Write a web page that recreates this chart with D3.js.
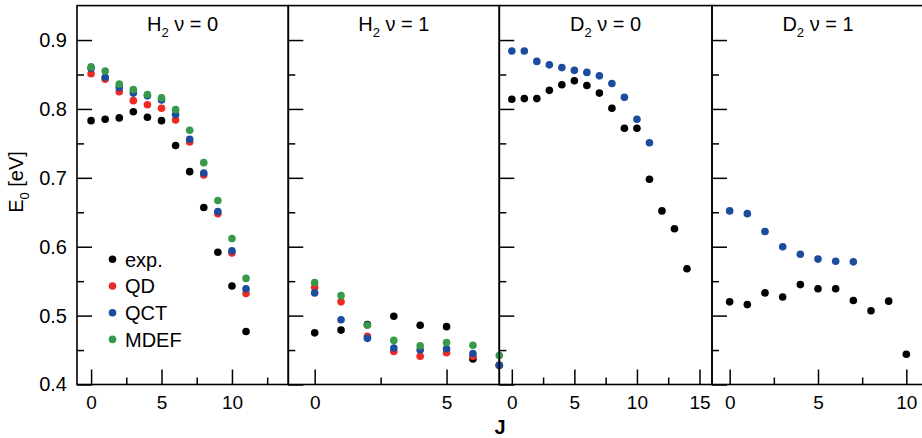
<!DOCTYPE html>
<html>
<head>
<meta charset="utf-8">
<script src="https://cdn.jsdelivr.net/npm/d3@7"></script>
<style>
  body { margin: 0; background: #fff; }
  svg { display: block; font-family: "Liberation Sans", Arial, Helvetica, sans-serif; }
</style>
</head>
<body>
<div id="chart"></div>
<script>
// series colours
var colExp = '#000000', colQD = '#ee2a24', colQCT = '#1b4c9e', colMDEF = '#37994a';

// H2 v=0
var h2v0J = [0, 1, 2, 3, 4, 5, 6, 7, 8, 9, 10, 11];
var h2v0Exp = [0.783, 0.785, 0.787, 0.796, 0.788, 0.783, 0.747, 0.709, 0.657, 0.592, 0.543, 0.477];
var h2v0QD = [0.851, 0.843, 0.825, 0.812, 0.806, 0.801, 0.784, 0.752, 0.704, 0.648, 0.591, 0.532];
var h2v0QCT = [0.859, 0.846, 0.831, 0.823, 0.819, 0.813, 0.792, 0.756, 0.707, 0.651, 0.594, 0.539];
var h2v0MDEF = [0.861, 0.855, 0.836, 0.828, 0.821, 0.816, 0.799, 0.769, 0.722, 0.667, 0.612, 0.554];

// H2 v=1
var h2v1J = [0, 1, 2, 3, 4, 5, 6, 7];
var h2v1Exp = [0.475, 0.479, 0.487, 0.499, 0.486, 0.484, 0.437, 0.428];
var h2v1QD = [0.541, 0.520, 0.470, 0.448, 0.441, 0.446, 0.441, 0.428];
var h2v1QCT = [0.533, 0.494, 0.467, 0.453, 0.450, 0.452, 0.445, 0.428];
var h2v1MDEF = [0.548, 0.529, 0.486, 0.464, 0.456, 0.461, 0.457, 0.442];

// D2 v=0
var d2v0J = [0, 1, 2, 3, 4, 5, 6, 7, 8, 9, 10, 11, 12, 13, 14];
var d2v0Exp = [0.814, 0.815, 0.815, 0.827, 0.835, 0.841, 0.834, 0.823, 0.801, 0.772, 0.772, 0.698, 0.652, 0.626, 0.568];
var d2v0QCTJ = [0, 1, 2, 3, 4, 5, 6, 7, 8, 9, 10, 11];
var d2v0QCT = [0.884, 0.884, 0.869, 0.864, 0.860, 0.856, 0.853, 0.848, 0.837, 0.817, 0.785, 0.751];

// D2 v=1
var d2v1J = [0, 1, 2, 3, 4, 5, 6, 7, 8, 9, 10];
var d2v1Exp = [0.520, 0.516, 0.533, 0.527, 0.545, 0.539, 0.539, 0.522, 0.507, 0.521, 0.444];
var d2v1QCTJ = [0, 1, 2, 3, 4, 5, 6, 7];
var d2v1QCT = [0.652, 0.648, 0.622, 0.600, 0.589, 0.582, 0.579, 0.578];

var legendNames = ['exp.', 'QD', 'QCT', 'MDEF'];
var legendColors = [colExp, colQD, colQCT, colMDEF];
var yTicksMajor = [0.4, 0.5, 0.6, 0.7, 0.8, 0.9];
var yTicksMinor = [0.45, 0.55, 0.65, 0.75, 0.85];

var panels = [
  { mol: 'H', v: '0', xDomain: [-1, 14], major: [0, 5, 10], minor: [2.5, 7.5, 12.5],
    series: [[h2v0J, h2v0Exp, colExp], [h2v0J, h2v0QD, colQD], [h2v0J, h2v0QCT, colQCT], [h2v0J, h2v0MDEF, colMDEF]] },
  { mol: 'H', v: '1', xDomain: [-1, 7], major: [0, 5], minor: [2.5],
    series: [[h2v1J, h2v1Exp, colExp], [h2v1J, h2v1QD, colQD], [h2v1J, h2v1QCT, colQCT], [h2v1J, h2v1MDEF, colMDEF]] },
  { mol: 'D', v: '0', xDomain: [-1, 16], major: [0, 5, 10, 15], minor: [2.5, 7.5, 12.5],
    series: [[d2v0J, d2v0Exp, colExp], [d2v0QCTJ, d2v0QCT, colQCT]] },
  { mol: 'D', v: '1', xDomain: [-1, 11], major: [0, 5, 10], minor: [2.5, 7.5],
    series: [[d2v1J, d2v1Exp, colExp], [d2v1QCTJ, d2v1QCT, colQCT]] }
];

var width = 922, height = 438;
var edges = [77, 288.3, 499.3, 712, 924];
var plotTop = 5.6, plotBottom = 384.5;
var r = 3.8;

var svg = d3.select('#chart').append('svg')
  .attr('width', width)
  .attr('height', height);

var y = d3.scaleLinear().domain([0.4, 0.95]).range([plotBottom, plotTop]);

panels.forEach(function(p, i) {
  var x0 = edges[i], x1 = edges[i + 1];
  var x = d3.scaleLinear().domain(p.xDomain).range([x0, x1]);
  var g = svg.append('g');

  // bottom ticks, inward
  var xMaj = g.append('g')
    .attr('transform', 'translate(0,' + plotBottom + ')')
    .call(d3.axisBottom(x).tickValues(p.major).tickSize(-15).tickSizeOuter(0).tickPadding(11).tickFormat(d3.format('d')));
  var xMin = g.append('g')
    .attr('transform', 'translate(0,' + plotBottom + ')')
    .call(d3.axisBottom(x).tickValues(p.minor).tickSize(-7).tickSizeOuter(0).tickFormat(''));

  // left ticks, inward
  var yMaj = g.append('g')
    .attr('transform', 'translate(' + x0 + ',0)')
    .call(d3.axisLeft(y).tickValues(yTicksMajor).tickSize(-15).tickSizeOuter(0).tickPadding(10)
      .tickFormat(i === 0 ? d3.format('.1f') : ''));
  var yMin = g.append('g')
    .attr('transform', 'translate(' + x0 + ',0)')
    .call(d3.axisLeft(y).tickValues(yTicksMinor).tickSize(-7).tickSizeOuter(0).tickFormat(''));

  [xMaj, xMin, yMaj, yMin].forEach(function(a) {
    a.select('.domain').remove();
    a.selectAll('line').attr('stroke', '#000').attr('stroke-width', 1.5);
    a.selectAll('text').attr('font-family', null).attr('font-size', 19).attr('fill', '#000');
  });
  yMaj.selectAll('text').attr('font-size', 20);

  // frame
  g.append('rect')
    .attr('x', x0)
    .attr('y', plotTop)
    .attr('width', x1 - x0)
    .attr('height', plotBottom - plotTop)
    .attr('fill', 'none')
    .attr('stroke', '#000')
    .attr('stroke-width', 1.6);

  // title
  var t = g.append('text')
    .attr('x', (x0 + x1) / 2)
    .attr('y', 31)
    .attr('text-anchor', 'middle')
    .attr('font-size', 20);
  t.append('tspan').text(p.mol);
  t.append('tspan').attr('font-size', 13).attr('dy', 6).text('2');
  t.append('tspan').attr('dy', -6).text(' \u03bd = ' + p.v);

  // points
  p.series.forEach(function(s) {
    g.append('g').selectAll('circle')
      .data(s[0].map(function(j, k) { return [j, s[1][k]]; }))
      .enter().append('circle')
      .attr('cx', function(d) { return x(d[0]); })
      .attr('cy', function(d) { return y(d[1]); })
      .attr('r', r)
      .attr('fill', s[2]);
  });
});

// legend
var leg = svg.append('g');
legendNames.forEach(function(name, i) {
  var ly = 259.3 + i * 26.7;
  leg.append('circle')
    .attr('cx', 112.5)
    .attr('cy', ly)
    .attr('r', r)
    .attr('fill', legendColors[i]);
  leg.append('text')
    .attr('x', 125)
    .attr('y', ly)
    .attr('dy', '0.36em')
    .attr('font-size', 20)
    .text(name);
});

// axis titles
var yl = svg.append('text')
  .attr('transform', 'translate(23,182) rotate(-90)')
  .attr('text-anchor', 'middle')
  .attr('font-size', 20);
yl.append('tspan').text('E');
yl.append('tspan').attr('font-size', 13).attr('dy', 6).text('0');
yl.append('tspan').attr('dy', -6).text(' [eV]');

svg.append('text')
  .attr('x', 500)
  .attr('y', 434)
  .attr('text-anchor', 'middle')
  .attr('font-size', 20)
  .attr('font-weight', 'bold')
  .text('J');
</script>
</body>
</html>
